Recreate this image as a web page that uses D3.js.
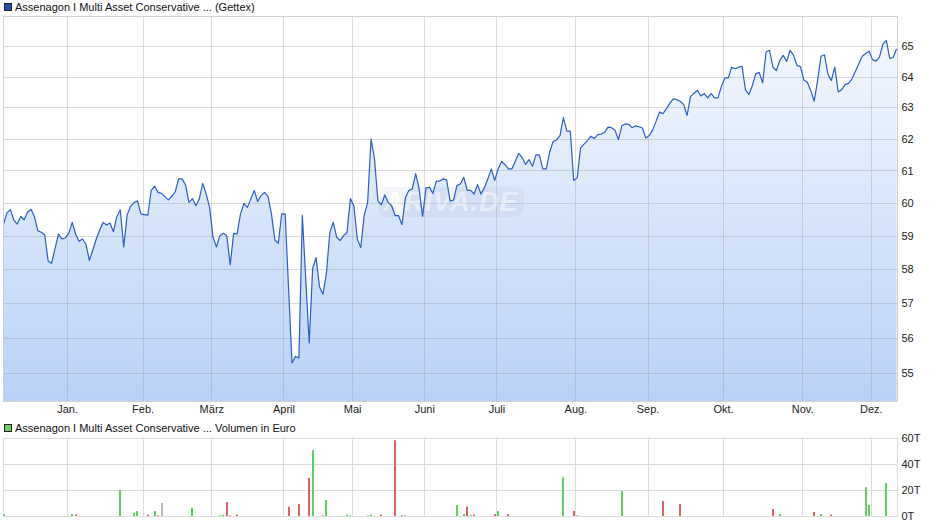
<!DOCTYPE html>
<html>
<head>
<meta charset="utf-8">
<script src="https://cdn.jsdelivr.net/npm/d3@7/dist/d3.min.js"></script>
<style>
html,body{margin:0;padding:0;background:#fff;}
svg{display:block;font-family:"Liberation Sans",Arial,sans-serif;}
</style>
</head>
<body>
<svg id="chart" width="940" height="526"></svg>
<script>
// ---- data (one value per trading day, index 0 = first day shown) ----
const seriesTitle = "Assenagon I Multi Asset Conservative ... (Gettex)";
const volumeTitle = "Assenagon I Multi Asset Conservative ... Volumen in Euro";

const prices = [
  // Dec (prev. year)
  59.35,59.69,59.79,59.48,59.35,59.58,59.48,59.71,59.80,59.58,59.15,59.10,59.03,58.24,58.17,58.61,59.05,58.90,58.93,
  // Jan
  59.07,59.40,59.05,58.83,58.90,58.74,58.26,58.57,58.90,59.17,59.40,59.32,59.38,59.12,59.58,59.78,58.66,59.63,59.89,60.01,60.06,59.66,
  // Feb
  59.64,59.62,60.38,60.51,60.32,60.29,60.19,60.09,60.20,60.34,60.74,60.74,60.55,60.01,60.13,59.91,60.12,60.60,60.27,59.86,
  // Mar
  58.95,58.66,59.00,59.07,59.00,58.12,59.07,59.05,59.66,59.98,59.86,60.12,60.38,60.04,60.22,60.32,60.20,59.66,58.87,58.77,59.66,
  // Apr
  59.66,57.40,55.28,55.47,55.42,59.61,57.68,55.85,58.02,58.34,57.48,57.26,57.87,59.10,59.40,58.95,58.85,59.00,59.10,60.13,
  // May
  59.91,58.90,58.64,59.61,60.01,61.99,61.37,60.06,59.94,60.24,60.01,59.91,59.61,59.61,59.33,60.16,60.38,60.43,60.90,60.43,59.58,
  // Jun
  60.46,60.48,60.29,60.67,60.67,60.74,60.71,60.06,60.08,60.53,60.58,60.79,60.38,60.38,60.27,60.56,60.27,60.46,60.74,61.05,60.69,
  // Jul
  61.05,61.28,61.18,61.05,61.05,61.29,61.54,61.40,61.19,61.34,61.13,61.49,61.49,61.05,61.05,61.57,61.91,61.96,62.10,62.67,62.24,62.24,60.69,
  // Aug
  60.77,61.71,61.83,61.94,62.08,62.01,62.13,62.15,62.20,62.37,62.35,62.28,61.97,62.41,62.47,62.46,62.35,62.41,62.38,62.34,62.02,
  // Sep
  62.10,62.28,62.56,62.85,62.80,62.96,63.14,63.28,63.25,63.20,63.10,62.74,63.35,63.46,63.55,63.37,63.45,63.31,63.45,63.31,63.31,63.68,
  // Oct
  63.96,63.96,64.31,64.26,64.31,64.34,63.57,63.42,63.71,64.09,64.14,63.80,64.81,64.87,64.31,64.20,64.53,64.70,64.50,64.87,64.70,64.37,64.33,
  // Nov
  63.89,63.82,63.55,63.20,63.87,64.67,64.72,64.09,63.87,64.31,63.50,63.57,63.74,63.78,63.93,64.17,64.42,64.67,64.76,64.84,
  // Dec
  64.56,64.51,64.64,65.07,65.20,64.60,64.63,64.92
];

// first trading-day index of each month (x-axis tick labels)
const monthLabels = ["Jan.","Feb.","März","April","Mai","Juni","Juli","Aug.","Sep.","Okt.","Nov.","Dez."];
const monthStart  = [19, 41, 61, 82, 102, 123, 144, 167, 188, 210, 233, 253];

const priceTicks = [55,56,57,58,59,60,61,62,63,64,65];
const volumeTicks = [0, 20000, 40000, 60000];
const volumeTickLabels = ["0T","20T","40T","60T"];

// volume days: trading-day index, volume in Euro, direction
const volDay = [0, 20, 21, 34, 38, 39, 42, 44, 45, 46, 55, 63, 64, 65, 66, 68, 83, 86, 89, 90, 93, 94, 100, 101, 106, 107, 110, 114, 116, 117, 132, 134, 135,
                136, 137, 143, 144, 147, 163, 166, 167, 180, 192, 197, 224, 226, 236, 238, 241, 251, 252, 257];
const volEuro = [1300, 1500, 1200, 19800, 2500, 3800, 1000, 3800, 500, 9900, 6400, 500, 1000, 10700, 500, 1000, 7100, 9100, 29200, 50300, 500, 12200, 1000, 500, 500, 1000, 1000, 57900, 500, 500, 8400, 1500, 7100,
                 1000, 1000, 1500, 3800, 1500, 29700, 3800, 500, 19000, 11400, 9100, 5300, 1500, 3000, 1500, 1000, 22000, 8400, 25100];
const volDir = ["up","up","down","up","up","up","down","up","down","flat","up","up","up","down","down","down","down","down","down","up","down","up","up","up","up","up","down","down","down","up","up","up","down",
                "flat","down","down","up","down","up","down","up","up","down","down","down","up","down","up","down","up","up","up"];

// ---- layout ----
const plotL = 3, plotR = 897.5;
const mainTop = 16.5, mainBot = 401.5;
const volTop = 437.5, volBot = 516.5;

const svg = d3.select("#chart");

const x = d3.scaleLinear().domain([0, prices.length - 1]).range([3.5, 896.6]);
const y = d3.scaleLog().domain([54.2, 66.0]).range([mainBot, mainTop]);
const yv = d3.scaleLinear().domain([0, 60000]).range([volBot - 0.5, volTop]);

const gridColor = "#dcdcdc";
const defs = svg.append("defs");
const grad = defs.append("linearGradient").attr("id","areaGrad")
  .attr("gradientUnits","userSpaceOnUse").attr("x1",0).attr("x2",0).attr("y1",mainTop).attr("y2",mainBot);
grad.append("stop").attr("offset","0%").attr("stop-color","#f7faff");
grad.append("stop").attr("offset","100%").attr("stop-color","#b9d1f7");

svg.append("clipPath").attr("id","mainClip").append("rect")
  .attr("x", plotL).attr("y", mainTop).attr("width", plotR - plotL).attr("height", mainBot - mainTop);

// ---- main chart ----
const main = svg.append("g");
const area = d3.area().x((d,i)=>x(i)).y0(mainBot).y1(d=>y(d));
main.append("path").datum(prices).attr("d", area).attr("fill","url(#areaGrad)").attr("clip-path","url(#mainClip)");

main.append("g").selectAll("line").data(priceTicks).join("line")
  .attr("x1", plotL).attr("x2", plotR)
  .attr("y1", d=>Math.round(y(d))+0.5).attr("y2", d=>Math.round(y(d))+0.5)
  .attr("stroke","rgba(150,150,150,0.33)").attr("stroke-width",1);
main.append("g").selectAll("line").data(monthStart).join("line")
  .attr("x1", d=>Math.round(x(d-0.5))+0.5).attr("x2", d=>Math.round(x(d-0.5))+0.5)
  .attr("y1", mainTop).attr("y2", mainBot)
  .attr("stroke","rgba(150,150,150,0.33)").attr("stroke-width",1);

// watermark
const wm = main.append("g").attr("opacity",0.55);
wm.append("rect").attr("x",378).attr("y",187).attr("width",146).attr("height",30).attr("rx",9)
  .attr("fill","rgba(170,180,200,0.25)");
wm.append("text").attr("x",451).attr("y",211).attr("text-anchor","middle")
  .attr("font-size",27).attr("font-weight","bold").attr("font-style","italic")
  .attr("fill","rgba(255,255,255,0.75)").attr("letter-spacing",1).text("ARIVA.DE");

const line = d3.line().x((d,i)=>x(i)).y(d=>y(d));
main.append("path").datum(prices).attr("d", line).attr("fill","none")
  .attr("stroke","#2b5fc4").attr("stroke-width",1.2).attr("stroke-linejoin","round");

main.append("rect").attr("x",plotL+0.5).attr("y",mainTop).attr("width",plotR-plotL-0.5).attr("height",mainBot-mainTop)
  .attr("fill","none").attr("stroke","#d0d0d0").attr("stroke-width",1);

const yAxis = d3.axisRight(y).tickValues(priceTicks).tickFormat(d3.format("d")).tickSize(0).tickPadding(4);
const ya = svg.append("g").attr("transform",`translate(${plotR},0)`).call(yAxis);
ya.select(".domain").remove();
ya.selectAll("text").attr("font-size",11).attr("fill","#222").attr("font-family","Liberation Sans, Arial, sans-serif");

const xAxis = d3.axisBottom(x).tickValues(monthStart.map(d=>d-0.5))
  .tickFormat((d,i)=>monthLabels[i]).tickSize(0).tickPadding(4);
const xa = svg.append("g").attr("transform",`translate(0,${mainBot})`).call(xAxis);
xa.select(".domain").remove();
xa.selectAll("text").attr("font-size",11).attr("fill","#222").attr("font-family","Liberation Sans, Arial, sans-serif");

svg.append("rect").attr("x",4.5).attr("y",3.5).attr("width",7).attr("height",7)
  .attr("fill","#1f4fb0").attr("stroke","#222").attr("stroke-width",1);
svg.append("text").attr("x",15).attr("y",11).attr("font-size",11).attr("fill","#111").text(seriesTitle);

// ---- volume chart ----
const vol = svg.append("g");
vol.append("g").selectAll("line").data(volumeTicks).join("line")
  .attr("x1", plotL).attr("x2", plotR)
  .attr("y1", d=>Math.round(yv(d))+0.5).attr("y2", d=>Math.round(yv(d))+0.5)
  .attr("stroke", gridColor).attr("stroke-width",1);
vol.append("g").selectAll("line").data(monthStart).join("line")
  .attr("x1", d=>Math.round(x(d-0.5))+0.5).attr("x2", d=>Math.round(x(d-0.5))+0.5)
  .attr("y1", volTop).attr("y2", volBot)
  .attr("stroke", gridColor).attr("stroke-width",1);
vol.append("line").attr("x1",plotL+0.5).attr("x2",plotL+0.5).attr("y1",volTop).attr("y2",volBot).attr("stroke",gridColor);
vol.append("line").attr("x1",plotR).attr("x2",plotR).attr("y1",volTop).attr("y2",volBot).attr("stroke",gridColor);

const dirColor = {up:"#5fd05f", down:"#d86363", flat:"#bbbbbb"};
vol.append("g").selectAll("rect").data(volDay).join("rect")
  .attr("x", d=>Math.round(x(d))-1).attr("width",2)
  .attr("y", (d,i)=>yv(volEuro[i])).attr("height", (d,i)=>yv(0)-yv(volEuro[i]))
  .attr("fill", (d,i)=>dirColor[volDir[i]]);

const vAxis = d3.axisRight(yv).tickValues(volumeTicks).tickFormat((d,i)=>volumeTickLabels[i]).tickSize(0).tickPadding(4);
const va = svg.append("g").attr("transform",`translate(${plotR},0)`).call(vAxis);
va.select(".domain").remove();
va.selectAll("text").attr("font-size",11).attr("fill","#222").attr("font-family","Liberation Sans, Arial, sans-serif");

svg.append("rect").attr("x",4.5).attr("y",424.5).attr("width",7).attr("height",7)
  .attr("fill","#66d066").attr("stroke","#222").attr("stroke-width",1);
svg.append("text").attr("x",15).attr("y",432).attr("font-size",11).attr("fill","#111").text(volumeTitle);
</script>
</body>
</html>
